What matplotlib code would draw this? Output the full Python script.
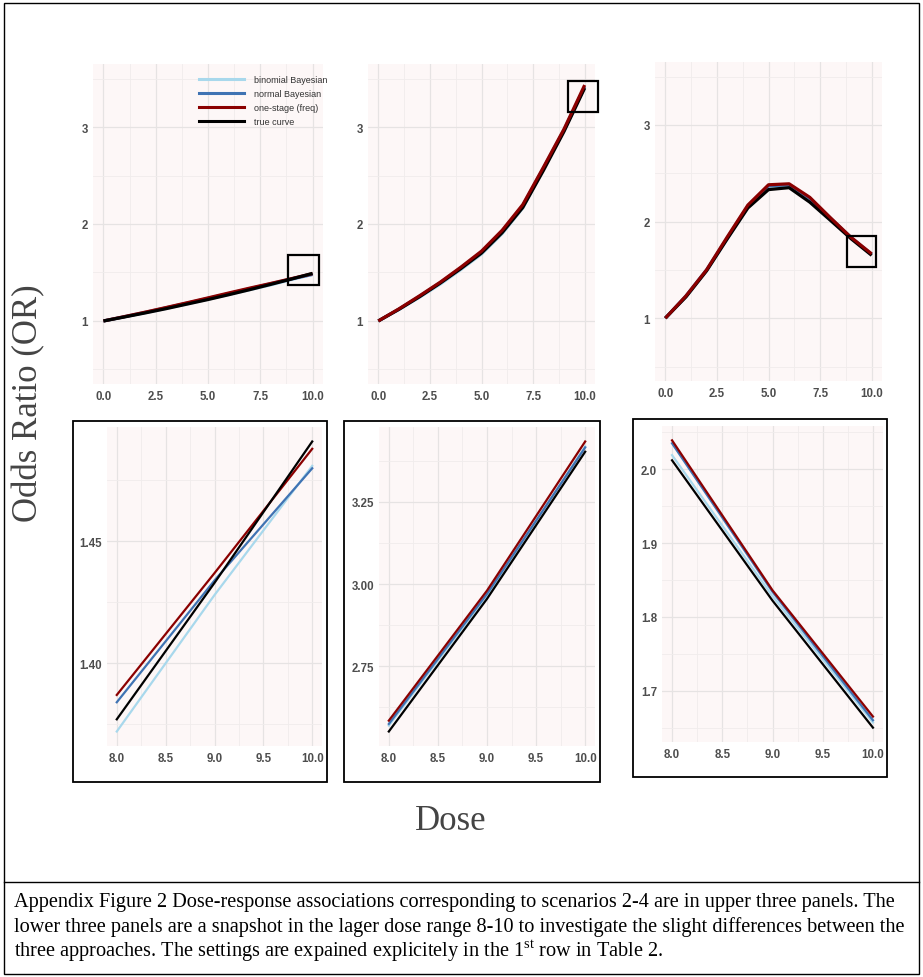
import matplotlib
matplotlib.use('Agg')
import matplotlib.pyplot as plt
from matplotlib.patches import Rectangle
from matplotlib.lines import Line2D

W, H = 923, 978

# dose grid used for the curves
dose = [0, 1, 2, 3, 4, 5, 6, 7, 8, 9, 10]

# scenario 2 (left column)
s2_binom  = [1.000, 1.042, 1.085, 1.130, 1.177, 1.225, 1.274, 1.323, 1.372, 1.428, 1.481]
s2_normal = [1.000, 1.044, 1.089, 1.136, 1.184, 1.233, 1.283, 1.333, 1.384, 1.434, 1.480]
s2_freq   = [1.000, 1.045, 1.091, 1.139, 1.188, 1.238, 1.289, 1.339, 1.387, 1.437, 1.488]
s2_true   = [1.000, 1.041, 1.083, 1.127, 1.174, 1.221, 1.271, 1.323, 1.377, 1.433, 1.491]

# scenario 3 (middle column)
s3_binom  = [1.000, 1.118, 1.245, 1.380, 1.530, 1.690, 1.900, 2.165, 2.570, 2.965, 3.418]
s3_normal = [1.000, 1.122, 1.255, 1.395, 1.548, 1.710, 1.925, 2.190, 2.575, 2.970, 3.415]
s3_freq   = [1.000, 1.125, 1.260, 1.400, 1.555, 1.720, 1.935, 2.200, 2.585, 2.980, 3.433]
s3_true   = [1.000, 1.120, 1.250, 1.390, 1.540, 1.700, 1.910, 2.170, 2.552, 2.955, 3.402]

# scenario 4 (right column)
s4_binom  = [1.000, 1.220, 1.490, 1.820, 2.150, 2.350, 2.360, 2.220, 2.019, 1.828, 1.657]
s4_normal = [1.000, 1.230, 1.500, 1.830, 2.160, 2.370, 2.380, 2.240, 2.035, 1.834, 1.660]
s4_freq   = [1.000, 1.230, 1.500, 1.840, 2.170, 2.380, 2.390, 2.250, 2.039, 1.836, 1.665]
s4_true   = [1.000, 1.220, 1.490, 1.820, 2.140, 2.330, 2.350, 2.200, 2.012, 1.822, 1.650]

series_names = ['binomial Bayesian', 'normal Bayesian', 'one-stage (freq)', 'true curve']
series_colors = ['#a8d8ec', '#3f73b3', '#8b0000', '#000000']

top_xticks = [0, 2.5, 5, 7.5, 10]
top_yticks = [1, 2, 3]
zoom_xticks = [8, 8.5, 9, 9.5, 10]
zoom_yticks = [[1.40, 1.45], [2.75, 3.00, 3.25], [1.7, 1.8, 1.9, 2.0]]
zoom_yfmt = ['%.2f', '%.2f', '%.1f']

# zoom windows drawn on the top panels (data units: x0, x1, y0, y1)
zoom_boxes = [(8.85, 10.29, 1.37, 1.68), (9.18, 10.63, 3.15, 3.47), (8.79, 10.19, 1.53, 1.85)]

scenarios = [[s2_binom, s2_normal, s2_freq, s2_true],
             [s3_binom, s3_normal, s3_freq, s3_true],
             [s4_binom, s4_normal, s4_freq, s4_true]]
draw_order = [[0, 1, 2, 3], [0, 1, 3, 2], [0, 1, 3, 2]]

TICKFONT = ['Liberation Sans', 'DejaVu Sans']
SERIF = ['Liberation Serif', 'DejaVu Serif']
plt.rcParams['mathtext.fontset'] = 'custom'
plt.rcParams['mathtext.rm'] = 'Liberation Serif'

fig = plt.figure(figsize=(W / 100, H / 100), dpi=100)


def px_axes(l, t, r, b):
    return fig.add_axes([l / W, 1 - b / H, (r - l) / W, (b - t) / H])


def fig_rect(l, t, r, b, lw):
    fig.patches.append(Rectangle((l / W, 1 - b / H), (r - l) / W, (b - t) / H,
                                 fill=False, lw=lw, ec='black', transform=fig.transFigure))


def style(ax, xt, xfmt, yt, yfmt):
    ax.set_facecolor('#fdf7f7')
    for s in ax.spines.values():
        s.set_visible(False)
    ax.set_xticks(xt, [xfmt % v for v in xt], fontweight='bold', family=TICKFONT)
    ax.set_yticks(yt, [yfmt % v for v in yt], fontweight='bold', family=TICKFONT)
    sx = xt[1] - xt[0]
    sy = yt[1] - yt[0]
    ax.set_xticks([v + sx / 2 for v in [xt[0] - sx] + xt], minor=True)
    ax.set_yticks([v + sy / 2 for v in [yt[0] - sy] + yt], minor=True)
    ax.grid(which='major', color='#e6e3e3', lw=0.9)
    ax.grid(which='minor', color='#f0ecec', lw=0.6)
    ax.set_axisbelow(True)
    ax.tick_params(which='both', length=0, labelsize=8.3, labelcolor='#4d4d4d')
    ax.tick_params(axis='x', pad=4.0)
    ax.tick_params(axis='y', pad=3.5)


top_boxes = [(93, 65, 323, 385), (368, 65, 595, 385), (655, 63, 882, 382)]
bot_boxes = [(107, 428, 322, 747), (379, 428, 595, 747), (662, 427, 883, 743)]
bot_frames = [(73, 422, 327, 783), (344, 422, 600, 783), (633, 420, 887, 778)]

for i in range(3):
    # full dose range
    ax = px_axes(*top_boxes[i])
    style(ax, top_xticks, '%.1f', top_yticks, '%d')
    for k in draw_order[i]:
        ax.plot(dose, scenarios[i][k], color=series_colors[k], lw=2.3,
                solid_capstyle='butt')
    ax.set_xlim(-0.5, 10.5)
    ax.set_ylim(0.35, 3.65)
    x0, x1, y0, y1 = zoom_boxes[i]
    ax.add_patch(Rectangle((x0, y0), x1 - x0, y1 - y0, fill=False, ec='black',
                           lw=1.6, clip_on=False, zorder=6))

    # snapshot 8-10
    ax = px_axes(*bot_boxes[i])
    style(ax, zoom_xticks, '%.1f', zoom_yticks[i], zoom_yfmt[i])
    lo, hi = 10, 0
    for k in draw_order[i]:
        ys = scenarios[i][k][8:]
        lo, hi = min(lo, min(ys)), max(hi, max(ys))
        ax.plot(dose[8:], ys, color=series_colors[k], lw=1.6)
    pad = 0.05 * (hi - lo)
    ax.set_xlim(7.9, 10.1)
    ax.set_ylim(lo - pad, hi + pad)
    fig_rect(*bot_frames[i], lw=1.3)

handles = [Line2D([], [], color=c, lw=2.2) for c in series_colors]
leg = fig.legend(handles, series_names, loc='upper left',
                 bbox_to_anchor=(199 / W, 1 - 76 / H), frameon=False,
                 prop={'family': TICKFONT, 'size': 6.5}, handlelength=5.0,
                 handletextpad=1.1, labelspacing=0.55, borderpad=0,
                 borderaxespad=0)
for t in leg.get_texts():
    t.set_color('#333333')

fig.text(451 / W, 1 - 822 / H, 'Dose', family=SERIF, size=25, color='#444444',
         ha='center', va='center')
fig.text(29 / W, 1 - 403 / H, 'Odds Ratio (OR)', family=SERIF, size=25,
         color='#444444', ha='center', va='center', rotation=90)

# outer frame and caption
fig_rect(4, 4, 919, 975, lw=1.0)
fig.lines.append(Line2D([4 / W, 919 / W], [1 - 883 / H, 1 - 883 / H], color='black',
                        lw=1.0, transform=fig.transFigure))
caption = [
    'Appendix Figure 2 Dose-response associations corresponding to scenarios 2-4 are in upper three panels. The',
    'lower three panels are a snapshot in the lager dose range 8-10 to investigate the slight differences between the',
    'three approaches. The settings are expained explicitely in the 1$^{\\mathrm{st}}$ row in Table 2.',
]
for j, line in enumerate(caption):
    fig.text(14 / W, 1 - (903 + 24 * j) / H, line, family=SERIF, size=14.6,
             ha='left', va='center')

fig.savefig('out.png', dpi=100)
